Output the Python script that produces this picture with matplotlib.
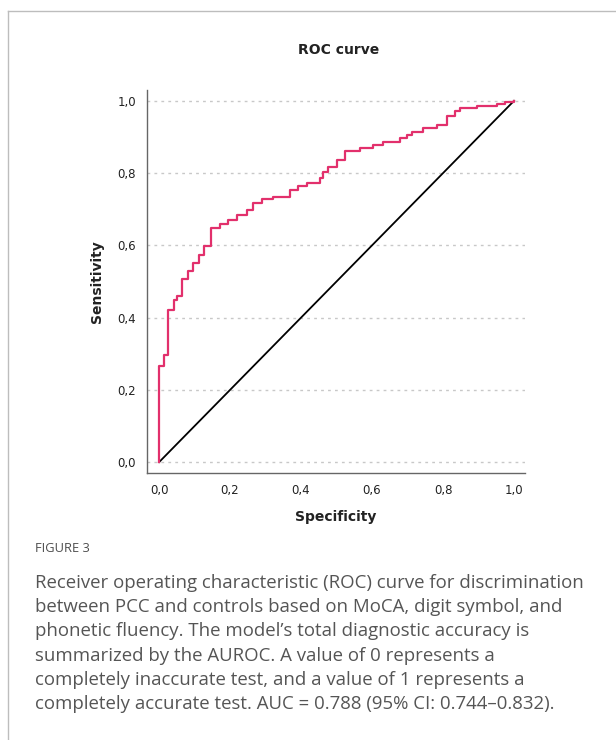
import numpy as np
import matplotlib.pyplot as plt
from matplotlib.lines import Line2D

# ROC-kurve
fpr = [0, 0.014, 0.025, 0.042, 0.051, 0.065, 0.082, 0.096, 0.113, 0.127,
       0.146, 0.172, 0.194, 0.220, 0.248, 0.265, 0.290, 0.321, 0.369, 0.392,
       0.417, 0.454, 0.462, 0.476, 0.501, 0.524, 0.566, 0.603, 0.631, 0.679,
       0.699, 0.713, 0.744, 0.783, 0.811, 0.834, 0.848, 0.896, 0.952, 0.975,
       1.0, 1.0]
tpr = [0, 0.266, 0.296, 0.421, 0.449, 0.460, 0.507, 0.529, 0.551, 0.573,
       0.598, 0.648, 0.659, 0.670, 0.684, 0.698, 0.717, 0.729, 0.734, 0.753,
       0.765, 0.773, 0.787, 0.803, 0.817, 0.837, 0.861, 0.870, 0.878, 0.886,
       0.898, 0.906, 0.914, 0.925, 0.934, 0.958, 0.972, 0.981, 0.986, 0.992,
       0.997, 1.0]
ref_line = [0, 1]
ticks = [0, 0.2, 0.4, 0.6, 0.8, 1.0]
tick_labels = ["0,0", "0,2", "0,4", "0,6", "0,8", "1,0"]

caption_head = "FIGURE 3"
caption_lines = [
    "Receiver operating characteristic (ROC) curve for discrimination",
    "between PCC and controls based on MoCA, digit symbol, and",
    "phonetic fluency. The model\u2019s total diagnostic accuracy is",
    "summarized by the AUROC. A value of 0 represents a",
    "completely inaccurate test, and a value of 1 represents a",
    "completely accurate test. AUC = 0.788 (95% CI: 0.744\u20130.832).",
]

plt.rcParams['font.family'] = ['DejaVu Sans']

fig = plt.figure(figsize=(6.16, 7.40), dpi=100)
W, H = 616, 740

# ramme rundt figuren (topp og venstre)
fig.add_artist(Line2D([8 / W, 1], [1 - 11 / H, 1 - 11 / H], color="#bdbdbd", lw=1))
fig.add_artist(Line2D([8 / W, 8 / W], [1 - 11 / H, 0], color="#bdbdbd", lw=1))

ax = fig.add_axes([147 / W, 1 - 473 / H, (525 - 147) / W, (473 - 90) / H])

ax.plot(ref_line, ref_line, color="black", lw=1.3, zorder=3)
ax.plot(fpr, tpr, drawstyle="steps-pre", color="#e2306c", lw=1.6, zorder=4)

ax.set_xlim(-0.034, 1.031)
ax.set_ylim(-0.030, 1.030)
ax.set_xticks(ticks)
ax.set_xticklabels(tick_labels)
ax.set_yticks(ticks)
ax.set_yticklabels(tick_labels)
ax.tick_params(length=0, labelsize=8.5, pad=8, colors="#222222")

for y in ticks:
    ax.axhline(y, color="#c8c8c8", lw=1, ls=(0, (2, 3)), zorder=1)

for side in ["top", "right"]:
    ax.spines[side].set_visible(False)
for side in ["left", "bottom"]:
    ax.spines[side].set_color("#666666")
    ax.spines[side].set_linewidth(1)

fig.text(339 / W, 1 - 50 / H, "ROC curve", ha="center", va="center",
         fontsize=10, fontweight="bold", color="#222222")
fig.text(336 / W, 1 - 517 / H, "Specificity", ha="center", va="center",
         fontsize=10, fontweight="bold", color="#222222")
fig.text(97 / W, 1 - 282 / H, "Sensitivity", ha="center", va="center",
         rotation=90, fontsize=10, fontweight="bold", color="#222222")

# figurtekst
fig.text(35 / W, 1 - 548 / H, caption_head, ha="left", va="center",
         fontsize=9.3, color="#4d4d4d", family="Open Sans")
for i, line in enumerate(caption_lines):
    fig.text(35 / W, 1 - (583 + 24.2 * i) / H, line, ha="left", va="center",
             fontsize=13.4, color="#555555", family="Open Sans")

fig.savefig("out.png", dpi=100)
